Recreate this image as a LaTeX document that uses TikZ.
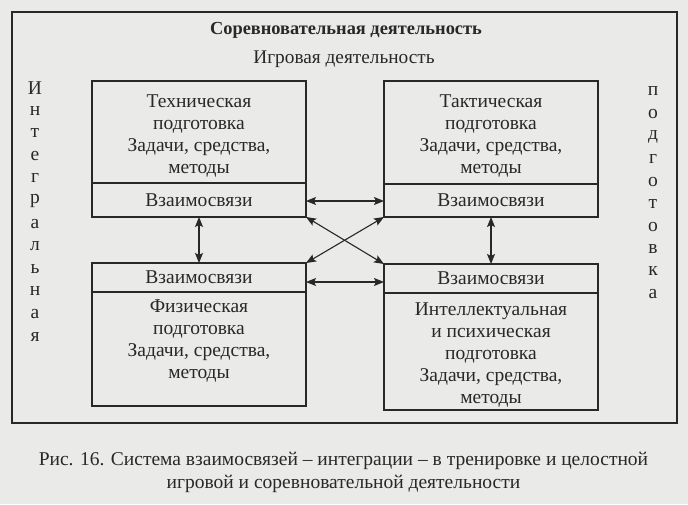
\documentclass[tikz,border=0pt]{standalone}
\usepackage{fontspec}
\setmainfont{Liberation Serif}
\usetikzlibrary{arrows.meta}
\definecolor{paper}{RGB}{234,234,232}
\definecolor{ink}{RGB}{40,40,40}
\tikzset{
  every node/.style={text=ink, inner sep=0pt, outer sep=0pt},
  boxframe/.style={draw=ink, line width=1.3pt, rectangle, fill=none},
  divline/.style={draw=ink, line width=1.1pt},
  boxtext/.style={align=center, font=\fontsize{19.5}{22}\selectfont},
  linktext/.style={font=\fontsize{19.5}{22}\selectfont},
  vletter/.style={font=\fontsize{19.5}{22}\selectfont},
  link/.style={draw=ink, line width=1.1pt, {Stealth[length=10pt,width=8pt,inset=2pt]}-{Stealth[length=10pt,width=8pt,inset=2pt]}},
}
\begin{document}
\begin{tikzpicture}[x=1pt,y=-1pt]
\fill[paper] (0,0) rectangle (688,504);
\useasboundingbox (0,0) rectangle (688,504);
% outer frame
\node[boxframe, minimum width=665pt, minimum height=411pt, line width=1.4pt] (frame) at (344.5,217.5) {};
\node[font=\bfseries\fontsize{18.4}{22}\selectfont] (title) at (346,30) {Соревновательная деятельность};
\node[font=\fontsize{19.3}{22}\selectfont] (game) at (344,59) {Игровая деятельность};
% boxes
\node[boxframe, minimum width=214pt, minimum height=136pt] (tl) at (199,149) {};
\node[boxframe, minimum width=214pt, minimum height=136pt] (tr) at (491,149) {};
\node[boxframe, minimum width=214pt, minimum height=143pt] (bl) at (199,334.5) {};
\node[boxframe, minimum width=214pt, minimum height=146pt] (br) at (491,337) {};
% dividers
\coordinate (tla) at (92,183); \coordinate (tlb) at (306,183);
\coordinate (tra) at (384,184); \coordinate (trb) at (598,184);
\coordinate (bla) at (92,292); \coordinate (blb) at (306,292);
\coordinate (bra) at (384,293); \coordinate (brb) at (598,293);
\draw[divline] (tla) -- (tlb);
\draw[divline] (tra) -- (trb);
\draw[divline] (bla) -- (blb);
\draw[divline] (bra) -- (brb);
% texts
\node[boxtext] (tlt) at (199,136) {Техническая\\подготовка\\Задачи, средства,\\методы};
\node[boxtext] (trt) at (491,136) {Тактическая\\подготовка\\Задачи, средства,\\методы};
\node[boxtext] (blt) at (199,341) {Физическая\\подготовка\\Задачи, средства,\\методы};
\node[boxtext] (brt) at (491,354.5) {Интеллектуальная\\и психическая\\подготовка\\Задачи, средства,\\методы};
\node[linktext] (tll) at (199,200) {Взаимосвязи};
\node[linktext] (trl) at (491,200) {Взаимосвязи};
\node[linktext] (bll) at (199,277) {Взаимосвязи};
\node[linktext] (brl) at (491,278) {Взаимосвязи};
% connectors
\coordinate (ha) at (306,201); \coordinate (hb) at (384,201);
\coordinate (hc) at (306,282); \coordinate (hd) at (384,282);
\draw[link] (ha) -- (hb);
\draw[link] (hc) -- (hd);
\draw[link] (tl.south) -- (bl.north);
\draw[link] (tr.south) -- (br.north);
\draw[link] (tl.south east) -- (br.north west);
\draw[link] (tr.south west) -- (bl.north east);
% vertical words
\foreach \ch [count=\i] in {И,н,т,е,г,р,а,л,ь,н,а,я}
  \node[vletter] (lw\i) at (35,{88+(\i-1)*22.6}) {\ch};
\foreach \ch [count=\i] in {п,о,д,г,о,т,о,в,к,а}
  \node[vletter] (rw\i) at (653,{91.5+(\i-1)*22.5}) {\ch};
% caption
\node[font=\fontsize{19.5}{22}\selectfont] (cap1) at (343.5,461) {Рис. 16. Система взаимосвязей – интеграции – в тренировке и целостной};
\node[font=\fontsize{19.5}{22}\selectfont] (cap2) at (343.5,484) {игровой и соревновательной деятельности};
\end{tikzpicture}
\end{document}
